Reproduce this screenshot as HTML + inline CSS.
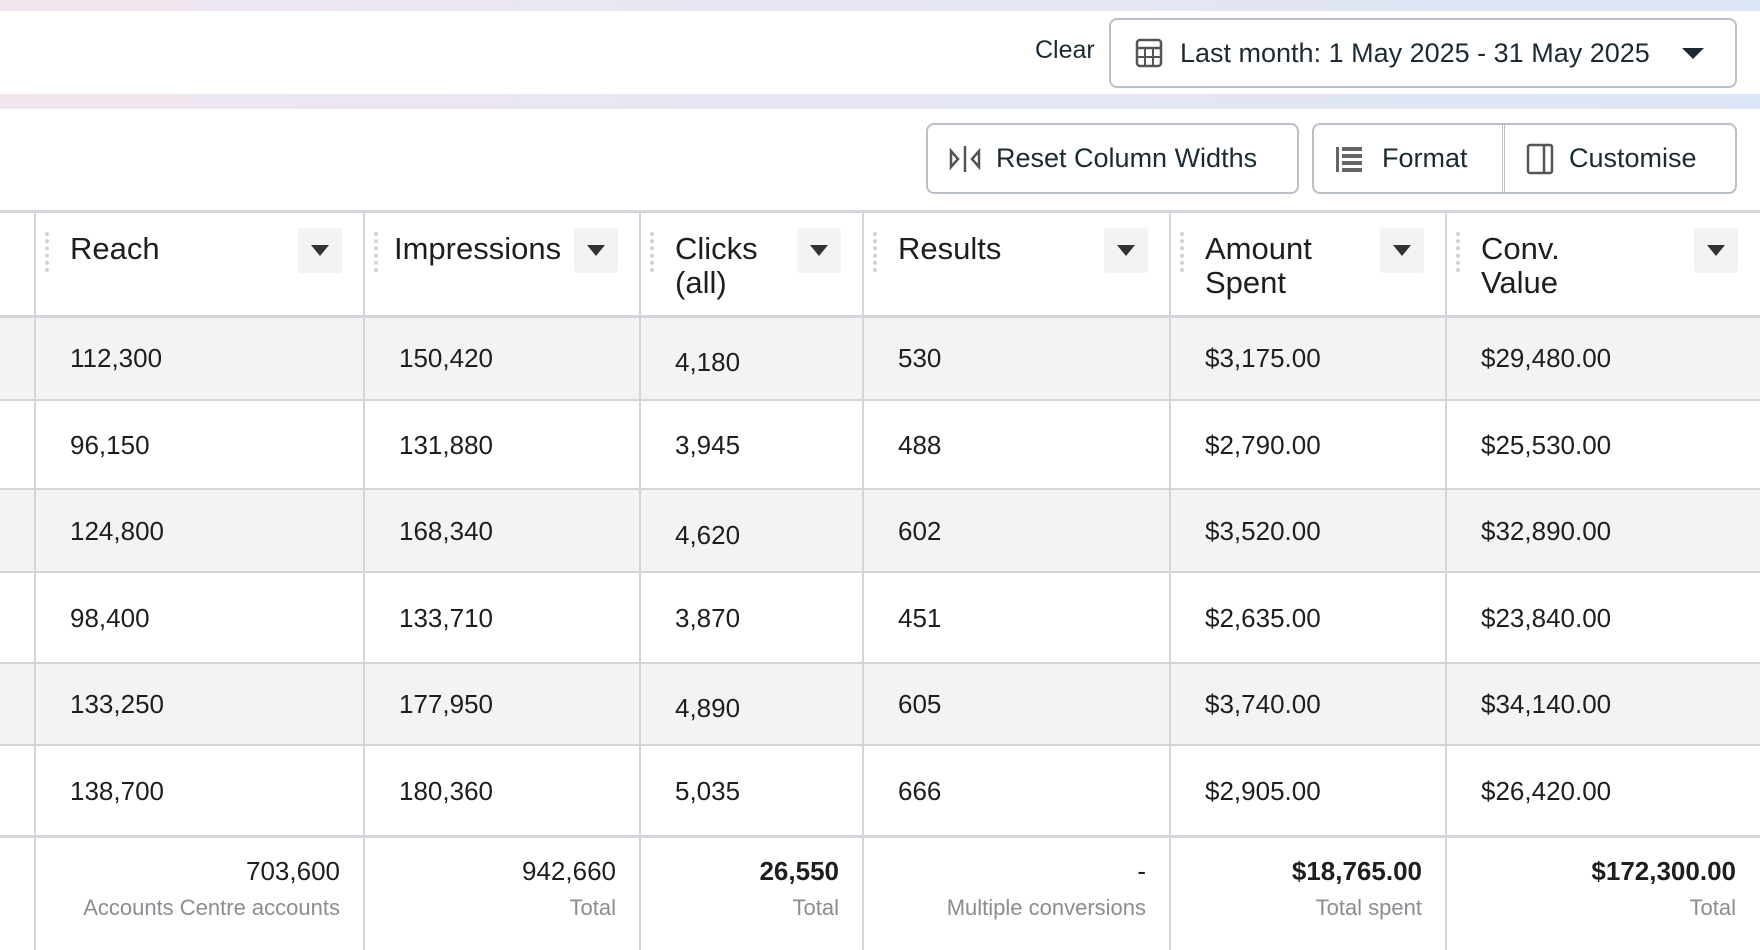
<!DOCTYPE html>
<html><head><meta charset="utf-8">
<style>
*{box-sizing:border-box;margin:0;padding:0}
body{width:1760px;height:950px;overflow:hidden;background:#fff;font-family:"Liberation Sans",Arial,sans-serif;color:#1c1e21;position:relative}
.abs{position:absolute}
.band{left:0;width:1760px;background:linear-gradient(90deg,#f1e6ef,#e6e6f3 50%,#dde6f6)}
.btn{border:2px solid #b9c0c8;border-radius:8px;background:#fff;display:flex;align-items:center;font-size:27px;color:#1c2b33;white-space:nowrap}
.vline{width:2px;background:#d3d5da;top:211px;height:739px}
.hline{left:0;width:1760px;height:2px;background:#d3d5da}
.hdr{font-size:31px;line-height:34px;top:232px;color:#1c1e21}
.dd{width:44px;height:45px;background:#f2f3f5;top:228px;border-radius:3px}
.dd::after{content:"";position:absolute;left:13px;top:17px;border-left:9px solid transparent;border-right:9px solid transparent;border-top:11px solid #333}
.grip{width:0;border-left:4px dotted #cfd2d6;top:232px;height:40px}
.cell{font-size:26px;line-height:30px}
.tot{font-size:26px;text-align:right;top:856px;line-height:30px}
.sub{font-size:22px;color:#8a8d91;text-align:right;top:895px;line-height:26px}
</style></head><body>
<div class="abs band" style="top:0;height:11px"></div>
<div class="abs band" style="top:94px;height:15px"></div>
<div class="abs" style="left:1035px;top:36px;font-size:25px;color:#1c2b33">Clear</div>
<div class="abs btn" style="left:1109px;top:18px;width:628px;height:70px">
 <svg width="30" height="30" style="margin-left:23px" viewBox="0 0 30 30"><rect x="3" y="2" width="24" height="26" rx="3" fill="none" stroke="#555" stroke-width="2.5"/><line x1="3" y1="10" x2="27" y2="10" stroke="#555" stroke-width="2.5"/><line x1="3" y1="19" x2="27" y2="19" stroke="#555" stroke-width="2"/><line x1="11" y1="10" x2="11" y2="28" stroke="#555" stroke-width="2"/><line x1="19" y1="10" x2="19" y2="28" stroke="#555" stroke-width="2"/></svg>
 <span style="margin-left:16px">Last month: 1 May 2025 - 31 May 2025</span>
 <span style="margin-left:32px;border-left:11px solid transparent;border-right:11px solid transparent;border-top:11px solid #1c2b33"></span>
</div>
<div class="abs btn" style="left:926px;top:123px;width:373px;height:71px">
 <svg width="34" height="30" style="margin-left:20px" viewBox="0 0 34 30"><path d="M3 7 L10 15 L3 23Z M31 7 L24 15 L31 23Z" fill="none" stroke="#555" stroke-width="2.5"/><line x1="17" y1="2" x2="17" y2="28" stroke="#555" stroke-width="2.5"/></svg>
 <span style="margin-left:14px">Reset Column Widths</span></div>
<div class="abs btn" style="left:1312px;top:123px;width:425px;height:71px">
 <div style="display:flex;align-items:center;width:191px;height:100%;border-right:3px double #b9c0c8">
  <svg width="30" height="30" style="margin-left:20px" viewBox="0 0 30 30"><g fill="#666"><rect x="2" y="3" width="3" height="25"/><rect x="8" y="3" width="20" height="4"/><rect x="8" y="10" width="20" height="4"/><rect x="8" y="17" width="20" height="4"/><rect x="8" y="24" width="20" height="4"/></g></svg>
  <span style="margin-left:18px">Format</span></div>
 <div style="display:flex;align-items:center;height:100%">
  <svg width="30" height="32" style="margin-left:20px" viewBox="0 0 30 32"><rect x="3" y="2" width="24" height="28" rx="2" fill="none" stroke="#555" stroke-width="2.5"/><line x1="19" y1="2" x2="19" y2="30" stroke="#555" stroke-width="2.5"/></svg>
  <span style="margin-left:14px">Customise</span></div>
</div>
<div id="table"></div>
<script>
const cols=[35,364,640,863,1170,1446,1760];
const headers=[["Reach"],["Impressions"],["Clicks","(all)"],["Results"],["Amount","Spent"],["Conv.","Value"]];
const rows=[["112,300","150,420","4,180","530","$3,175.00","$29,480.00"],["96,150","131,880","3,945","488","$2,790.00","$25,530.00"],["124,800","168,340","4,620","602","$3,520.00","$32,890.00"],["98,400","133,710","3,870","451","$2,635.00","$23,840.00"],["133,250","177,950","4,890","605","$3,740.00","$34,140.00"],["138,700","180,360","5,035","666","$2,905.00","$26,420.00"]];
const totals=["703,600","942,660","26,550","-","$18,765.00","$172,300.00"];
const totalLabels=["Accounts Centre accounts","Total","Total","Multiple conversions","Total spent","Total"];
const rowY=[316,400,489,572,663,745,836];
const T=document.getElementById('table');
function mk(cls,css,txt){const d=document.createElement('div');d.className='abs '+cls;d.style.cssText=css;if(txt!==undefined)d.textContent=txt;T.appendChild(d);return d;}
rows.forEach((r,i)=>{
 if(i%2===0){const bg=mk('', `left:0;top:${rowY[i]}px;width:1760px;height:${rowY[i+1]-rowY[i]}px;background:#f2f4f4`);
 
 }
 r.forEach((v,j)=>{const mid=(rowY[i]+rowY[i+1])/2;const dy=(j===2&&i%2===0)?4:0;
  const c=mk('cell',`left:${cols[j]+35}px;top:${mid-15+dy}px`,v);
  
  });
});
rowY.forEach((y,i)=>{const h=mk('hline',`top:${y-1}px;${(i===0||i===6)?'height:3px;':''}`);
 
 });
const tableTop=mk('hline','top:210px;height:3px');


cols.slice(0,6).forEach((x,j)=>{const v=mk('vline',`left:${x-1}px`);
 
 
 const g=mk('grip',`left:${x+10}px`);
 
 
 const h=mk('hdr',`left:${x+(j===1?30:35)}px`);h.innerHTML=headers[j].join('<br>');
 
 
 const d=mk('dd',`left:${cols[j+1]-66}px`);
 
 
 const t=mk('tot',`left:${x}px;width:${cols[j+1]-x-24}px;font-weight:${(j===2||j>=4)?'bold':'normal'}`,totals[j]);
 
 
 const s=mk('sub',`left:${x}px;width:${cols[j+1]-x-24}px`,totalLabels[j]);
 
 
});
</script>
</body></html>
